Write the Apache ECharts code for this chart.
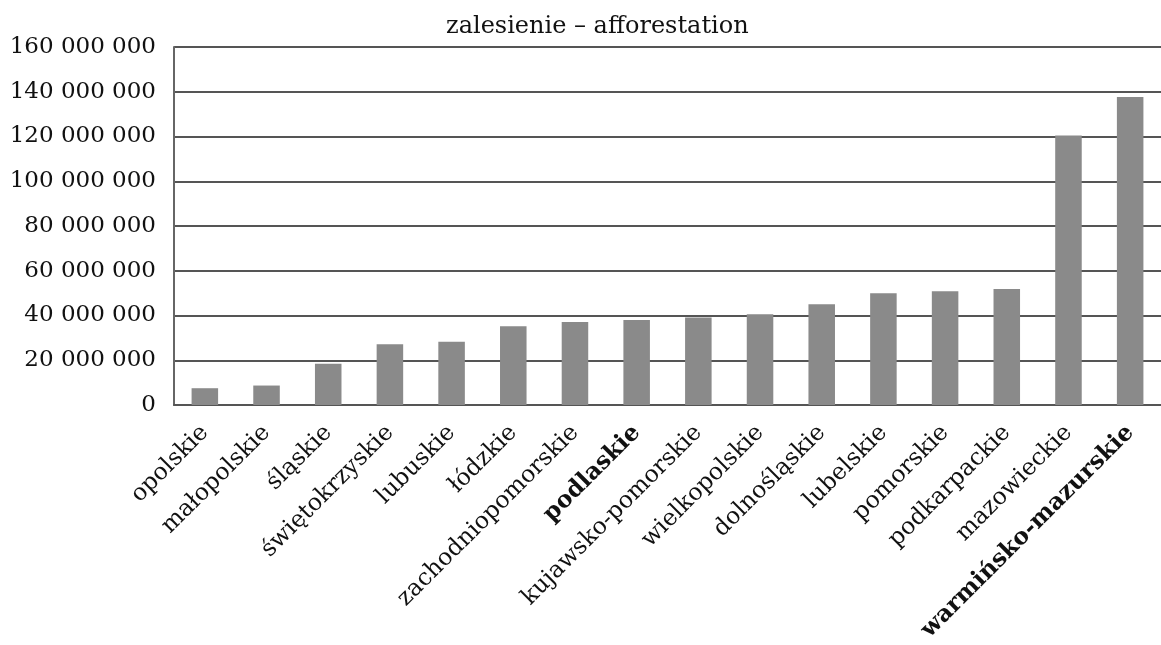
<!DOCTYPE html>
<html><head><meta charset="utf-8">
<script src="https://cdn.jsdelivr.net/npm/echarts@6/dist/echarts.min.js"></script>
<style>html,body{margin:0;padding:0;background:#fff}#c{width:1161px;height:645px}</style>
</head><body><div id="c"></div>
<script>
const categories = ['opolskie','małopolskie','śląskie','świętokrzyskie','lubuskie','łódzkie','zachodniopomorskie','podlaskie','kujawsko-pomorskie','wielkopolskie','dolnośląskie','lubelskie','pomorskie','podkarpackie','mazowieckie','warmińsko-mazurskie'];
const values = [7500000, 8700000, 18400000, 27200000, 28300000, 35200000, 37100000, 38000000, 39100000, 40600000, 45000000, 49900000, 50800000, 51800000, 120500000, 137600000];
const boldCategories = ['podlaskie','warmińsko-mazurskie'];
const titleText = 'zalesienie – afforestation';

const FONT = 'DejaVu Serif';
const chart = echarts.init(document.getElementById('c'), null, {renderer:'canvas'});
chart.setOption({
  animation:false,
  backgroundColor:'#fff',
  title:{text:titleText, left:441, top:10, textStyle:{fontFamily:FONT, fontWeight:'normal', fontSize:24, color:'#111'}},
  grid:{left:174, right:0, top:47, bottom:240, containLabel:false},
  xAxis:{type:'category', data:categories,
    axisLine:{lineStyle:{color:'#555', width:2}},
    axisTick:{show:false},
    axisLabel:{rotate:45, interval:0, margin:24, fontFamily:FONT, fontSize:23.5, color:'#111',
      formatter:v => boldCategories.includes(v) ? '{b|'+v+'}' : v,
      rich:{b:{fontFamily:FONT, fontSize:23.5, fontWeight:'bold', color:'#111'}}}
  },
  yAxis:{type:'value', min:0, max:160000000, interval:20000000,
    axisLine:{show:true, lineStyle:{color:'#666', width:2}},
    axisTick:{show:false},
    splitLine:{lineStyle:{color:'#555', width:2}},
    axisLabel:{margin:18, fontFamily:FONT, fontSize:23, color:'#111',
      formatter:v => String(v).replace(/\B(?=(\d{3})+(?!\d))/g,' ')}
  },
  series:[{type:'bar', data:values, barWidth:'43%', itemStyle:{color:'#8a8a8a'}}]
});
</script></body></html>
